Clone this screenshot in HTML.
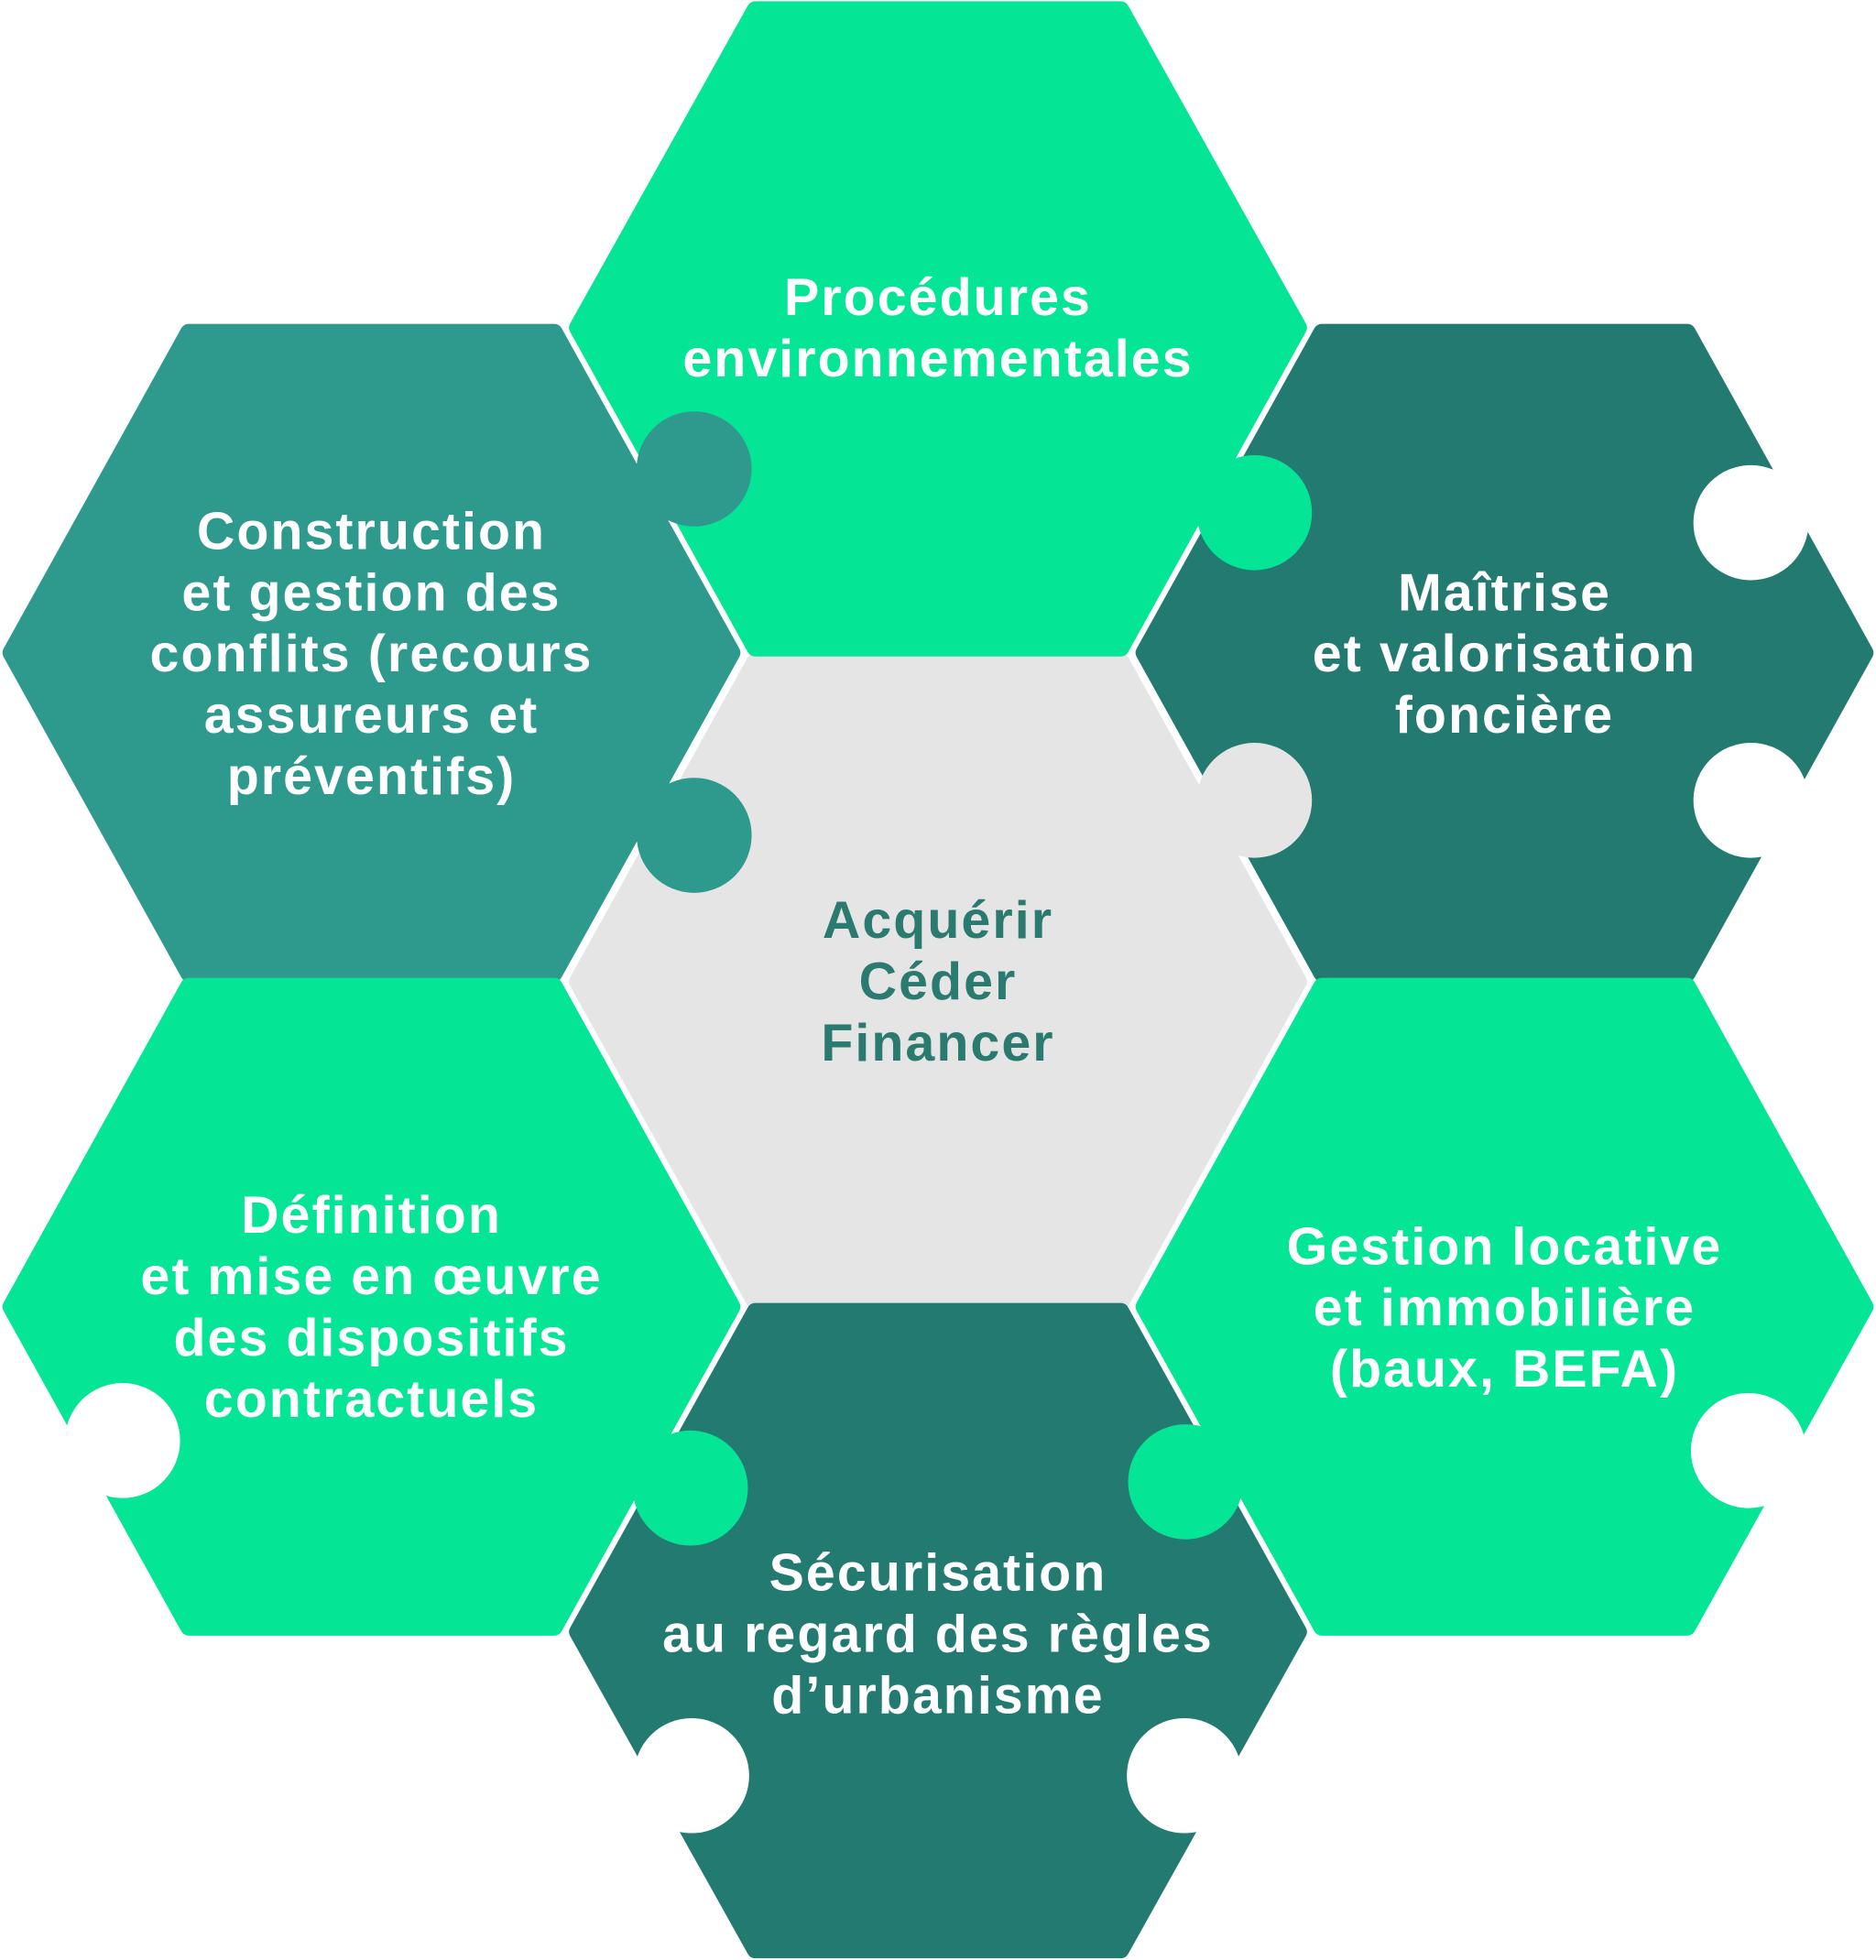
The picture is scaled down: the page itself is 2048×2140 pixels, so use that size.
<!DOCTYPE html>
<html><head><meta charset="utf-8"><style>
html,body{margin:0;padding:0;background:#fff;}
svg{display:block;}
text{font-family:"Liberation Sans",sans-serif;font-weight:bold;font-size:42px;letter-spacing:1.5px;text-anchor:middle;fill:#fff;}
</style></head><body>
<svg width="2048" height="2140" viewBox="0 0 1500 1567.4" xmlns="http://www.w3.org/2000/svg">
<g stroke-linejoin="round" stroke-width="14">
<polygon points="462,785 604,529 896,529 1038,785 896,1041 604,1041" fill="#e5e5e5" stroke="#e5e5e5"/>
<polygon points="462,262 604,8 896,8 1038,262 896,518 604,518" fill="#05e596" stroke="#05e596"/>
<polygon points="9,522 151,266 443,266 585,522 443,778 151,778" fill="#2e9a8e" stroke="#2e9a8e"/>
<polygon points="915,522 1057,266 1349,266 1491,522 1349,778 1057,778" fill="#237a70" stroke="#237a70"/>
<polygon points="9,1045 151,789 443,789 585,1045 443,1301 151,1301" fill="#05e596" stroke="#05e596"/>
<polygon points="915,1045 1057,789 1349,789 1491,1045 1349,1301 1057,1301" fill="#05e596" stroke="#05e596"/>
<polygon points="462,1305 604,1049 896,1049 1038,1305 896,1559 604,1559" fill="#237a70" stroke="#237a70"/>
</g>
<circle cx="555" cy="375" r="46" fill="#2e9a8e"/>
<rect x="520" y="355" width="30" height="40" fill="#2e9a8e"/>
<circle cx="555" cy="668" r="46" fill="#2e9a8e"/>
<circle cx="1003" cy="410" r="46" fill="#05e596"/>
<circle cx="1003" cy="640" r="46" fill="#e5e5e5"/>
<circle cx="552" cy="1190" r="46" fill="#05e596"/>
<circle cx="948" cy="1185" r="46" fill="#05e596"/>
<circle cx="1400" cy="418" r="46" fill="#fff"/>
<circle cx="1400" cy="640" r="46" fill="#fff"/>
<circle cx="98" cy="1152" r="46" fill="#fff"/>
<circle cx="1398" cy="1160" r="46" fill="#fff"/>
<circle cx="553" cy="1420" r="46" fill="#fff"/>
<circle cx="947" cy="1420" r="46" fill="#fff"/>
<text x="750" y="252">Procédures</text>
<text x="750" y="301">environnementales</text>
<text x="297" y="439">Construction</text>
<text x="297" y="488">et gestion des</text>
<text x="297" y="537">conflits (recours</text>
<text x="297" y="586">assureurs et</text>
<text x="297" y="635">préventifs)</text>
<text x="1203" y="488">Maîtrise</text>
<text x="1203" y="537">et valorisation</text>
<text x="1203" y="586">foncière</text>
<text x="750" y="750" style="fill:#2a7a70">Acquérir</text>
<text x="750" y="799" style="fill:#2a7a70">Céder</text>
<text x="750" y="848" style="fill:#2a7a70">Financer</text>
<text x="297" y="986">Définition</text>
<text x="297" y="1035">et mise en œuvre</text>
<text x="297" y="1084">des dispositifs</text>
<text x="297" y="1133">contractuels</text>
<text x="1203" y="1011">Gestion locative</text>
<text x="1203" y="1060">et immobilière</text>
<text x="1203" y="1109">(baux, BEFA)</text>
<text x="750" y="1272">Sécurisation</text>
<text x="750" y="1321">au regard des règles</text>
<text x="750" y="1370">d’urbanisme</text>
</svg>
</body></html>
